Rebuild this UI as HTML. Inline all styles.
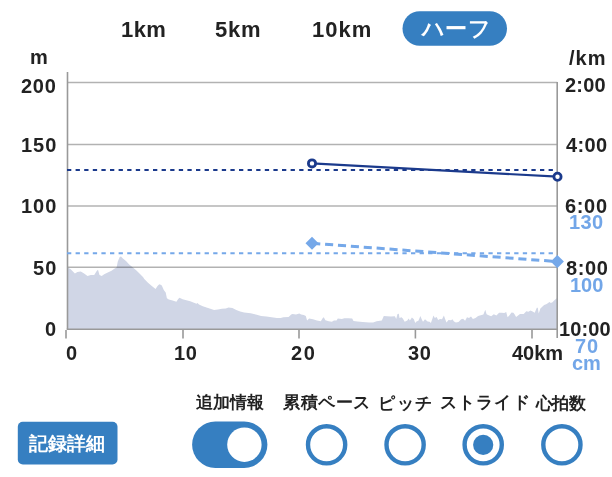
<!DOCTYPE html>
<html><head><meta charset="utf-8">
<style>
*{margin:0;padding:0;box-sizing:border-box}
html,body{width:612px;height:477px;overflow:hidden;background:#fff}
body{position:relative;font-family:"Liberation Sans",sans-serif;color:#222}
.t{position:absolute;white-space:nowrap;line-height:1;will-change:transform}
svg{position:absolute;left:0;top:0}
</style></head><body>
<svg width="612" height="477" viewBox="0 0 612 477">
<path d="M67.5 329 L67.7 267.6 L70.7 269.3 L74.9 273.5 L77.4 272 L80.8 271.5 L84.1 273.5 L87.5 276 L90.8 275 L94.2 275 L96.7 271 L98 269.8 L99.5 275 L101.7 276 L104.2 274.3 L107.8 272.4 L111.5 270.8 L114.7 268.6 L116.6 267.6 L117.8 261.4 L119.7 257 L121 256.6 L122.9 258.6 L126 261.1 L129.2 264.5 L132.9 267.6 L136.7 270.8 L140.5 274.6 L143 277 L144.3 279 L148 282.7 L151.8 285.9 L155.6 289 L157.5 285.9 L159.3 284.2 L161.2 285 L161.9 285.7 L163.8 290.1 L165.7 292.4 L166.9 298.3 L168.8 299.6 L172.6 300.6 L176.4 301.7 L178.2 298.9 L179.5 297.7 L182.6 299.2 L186.4 300.2 L190.2 301.2 L194 302.7 L196.5 303.7 L197.5 303.1 L199 304.6 L202.8 306.2 L206.5 307.5 L210.3 308.7 L214.1 310 L217.9 309.5 L221.9 308.8 L225.8 308.5 L228.5 307.5 L232.4 308.1 L236.3 310.1 L240.2 311.4 L244.1 312.4 L250.7 313.3 L255.9 314.6 L261.1 315.9 L266.4 316.6 L271.6 317.3 L276.8 317.9 L280.7 317.9 L283.4 317.3 L288.6 317 L291.2 314.6 L292.5 314 L296 314.6 L299.3 313.6 L301.2 314.6 L303.8 315 L305.8 316 L307.1 320.5 L309.1 318.6 L313 319.2 L316.9 320.5 L320.8 321.2 L322.8 317.9 L323.8 317.3 L325.4 320.3 L328.7 321.2 L331.9 321.8 L333.9 320.5 L336.5 320.5 L337.8 318.6 L341.8 319 L344.4 318.3 L348.3 318.3 L352.2 318.6 L353.5 320.9 L357.4 321.6 L362.7 322.1 L369.2 322.5 L373.1 322.5 L376.6 321.2 L381.8 320.5 L383.8 316 L387.1 316.3 L391 316.6 L394.9 316.3 L396.2 319 L397.5 314 L398.8 313.7 L399.5 317.9 L401.5 317.3 L402.8 318.6 L404.7 321.8 L407.3 320.5 L408.6 318.6 L409.9 320.5 L411.9 317.6 L413.9 319.2 L415.2 323.1 L416.5 321.6 L418.4 320.8 L420.4 316 L421.7 319.2 L423 321.8 L425 319.2 L427.6 321.6 L429.6 321.8 L430.9 323.1 L432.2 319.2 L433.5 315.6 L434.8 317.9 L436.7 316.9 L438.1 319.9 L440 319 L442 319.2 L443.9 315.6 L445.2 319.2 L446.5 322.5 L448.5 319.9 L451.1 320.3 L452.4 319.2 L454 321.6 L455.9 322.5 L458.5 322.1 L461.2 319.2 L463.1 318.7 L465.1 320.8 L467 317.3 L469 317.9 L471 316.6 L472.9 319 L475.5 317.9 L478.1 315.9 L480.8 315.3 L483.4 314.6 L485.3 309.8 L486.6 314.2 L488.6 315.3 L491.2 316.3 L493.8 314.2 L496.4 315.6 L499.1 312.7 L501.7 312.7 L504.3 312.9 L506.2 312 L507.6 317.3 L509.5 315.3 L511.5 312.4 L513.4 312.7 L514.7 314.6 L516.1 316.9 L518.7 315 L520 314 L523.7 314 L526.3 311.2 L528.4 311.7 L530.5 310.4 L532.6 311.4 L534.7 312.7 L536.8 307.8 L537.8 307.8 L538.7 313.5 L540.4 308.5 L542 307 L544.1 305 L546.2 304.3 L547.8 303.3 L549.4 302 L550.9 303.1 L552.5 302.2 L554.1 300.4 L556.2 298.7 L557.2 298 L557.2 329 Z" fill="#d0d6e6"/>
<g stroke="#000" stroke-opacity="0.3" stroke-width="1.6" fill="none">
<line x1="67.5" y1="82.5" x2="557.2" y2="82.5"/>
<line x1="67.5" y1="144.5" x2="557.2" y2="144.5"/>
<line x1="67.5" y1="206" x2="557.2" y2="206"/>
<line x1="67.5" y1="267.3" x2="557.2" y2="267.3"/>
</g>
<g stroke="#999" stroke-width="1.6" fill="none">
<line x1="67.5" y1="72" x2="67.5" y2="329.3"/>
<line x1="557.2" y1="82" x2="557.2" y2="338"/>
<line x1="66.7" y1="329.3" x2="557.2" y2="329.3"/>
<line x1="66" y1="330" x2="66" y2="338.5"/>
<line x1="183" y1="330" x2="183" y2="338.5"/>
<line x1="299" y1="330" x2="299" y2="338.5"/>
<line x1="415.4" y1="330" x2="415.4" y2="338.5"/>
<line x1="532" y1="330" x2="532" y2="338.5"/>
</g>
<line x1="67" y1="170.1" x2="554" y2="170.1" stroke="#1b3a8c" stroke-width="2" stroke-dasharray="4.3 4.3"/>
<line x1="67" y1="253.3" x2="554" y2="253.3" stroke="#75a8e9" stroke-width="2" stroke-dasharray="4.3 4.3"/>
<line x1="312" y1="163.4" x2="557.5" y2="176.7" stroke="#1b3a8c" stroke-width="2.2"/>
<circle cx="312" cy="163.4" r="3.6" fill="#fff" stroke="#1b3a8c" stroke-width="2.8"/>
<circle cx="557.5" cy="176.7" r="3.6" fill="#fff" stroke="#1b3a8c" stroke-width="2.8"/>
<line x1="312.2" y1="243.3" x2="557.3" y2="261.6" stroke="#75a8e9" stroke-width="3" stroke-dasharray="8.1 4.82"/>
<path d="M312 236.8 L318.5 243.3 L312 249.8 L305.5 243.3 Z" fill="#75a8e9"/>
<path d="M557.3 255 L563.9 261.6 L557.3 268.2 L550.7 261.6 Z" fill="#75a8e9"/>
<!-- bottom controls -->
<rect x="17.8" y="421.8" width="99.7" height="42.7" rx="5" fill="#367fc1"/>
<rect x="192.1" y="421.5" width="75.3" height="46.4" rx="23.2" fill="#367fc1"/>
<circle cx="244.4" cy="444.7" r="17.2" fill="#fff"/>
<g fill="none" stroke="#367fc1" stroke-width="4.4">
<circle cx="326.6" cy="444.8" r="18.6"/>
<circle cx="405.1" cy="444.8" r="18.6"/>
<circle cx="483.2" cy="444.8" r="18.6"/>
<circle cx="561.9" cy="444.8" r="18.6"/>
</g>
<circle cx="483.2" cy="444.8" r="10.1" fill="#367fc1"/>
<rect x="402.5" y="11.3" width="104.5" height="34.5" rx="17.25" fill="#367fc1"/>
</svg>
<div class="t" style="left:120.80px;top:18.80px;font-size:22px;font-weight:bold;letter-spacing:0.40px">1km</div>
<div class="t" style="left:215.40px;top:18.70px;font-size:22px;font-weight:bold;letter-spacing:0.80px">5km</div>
<div class="t" style="left:311.50px;top:18.70px;font-size:22px;font-weight:bold;letter-spacing:1.00px">10km</div>
<div class="t" style="left:421.90px;top:17.50px;font-size:22px;font-weight:bold;color:#fff;letter-spacing:0.30px">ハーフ</div>
<div class="t" style="left:30.30px;top:47.40px;font-size:20px;font-weight:bold">m</div>
<div class="t" style="left:568.60px;top:48.00px;font-size:20px;font-weight:bold;letter-spacing:1.00px">/km</div>
<div class="t" style="left:20.70px;top:75.70px;font-size:20px;font-weight:bold;letter-spacing:0.70px">200</div>
<div class="t" style="left:21.40px;top:135.10px;font-size:20px;font-weight:bold;letter-spacing:1.00px">150</div>
<div class="t" style="left:21.40px;top:196.30px;font-size:20px;font-weight:bold;letter-spacing:1.00px">100</div>
<div class="t" style="left:32.60px;top:257.50px;font-size:20px;font-weight:bold;letter-spacing:1.20px">50</div>
<div class="t" style="left:44.70px;top:319.10px;font-size:20px;font-weight:bold">0</div>
<div class="t" style="left:565.10px;top:75.00px;font-size:20px;font-weight:bold;letter-spacing:0.20px">2:00</div>
<div class="t" style="left:565.50px;top:135.30px;font-size:20px;font-weight:bold;letter-spacing:0.33px">4:00</div>
<div class="t" style="left:565.00px;top:195.60px;font-size:20px;font-weight:bold;letter-spacing:0.67px">6:00</div>
<div class="t" style="left:566.10px;top:257.90px;font-size:20px;font-weight:bold;letter-spacing:0.60px">8:00</div>
<div class="t" style="left:559.40px;top:318.60px;font-size:20px;font-weight:bold;letter-spacing:0.10px">10:00</div>
<div class="t" style="left:569.00px;top:212.40px;font-size:20px;font-weight:bold;color:#72a6e8;letter-spacing:0.40px">130</div>
<div class="t" style="left:570.00px;top:275.30px;font-size:20px;font-weight:bold;color:#72a6e8">100</div>
<div class="t" style="left:574.50px;top:336.20px;font-size:20px;font-weight:bold;color:#72a6e8;letter-spacing:1.00px">70</div>
<div class="t" style="left:571.60px;top:353.30px;font-size:20px;font-weight:bold;color:#72a6e8">cm</div>
<div class="t" style="left:66.20px;top:343.00px;font-size:20px;font-weight:bold">0</div>
<div class="t" style="left:174.30px;top:343.30px;font-size:20px;font-weight:bold;letter-spacing:0.60px">10</div>
<div class="t" style="left:290.80px;top:343.30px;font-size:20px;font-weight:bold;letter-spacing:1.60px">20</div>
<div class="t" style="left:407.70px;top:343.30px;font-size:20px;font-weight:bold;letter-spacing:0.60px">30</div>
<div class="t" style="left:512.20px;top:343.00px;font-size:20px;font-weight:bold">40km</div>
<div class="t" style="left:28.90px;top:434.00px;font-size:19px;font-weight:bold;color:#fff;letter-spacing:0.07px">記録詳細</div>
<div class="t" style="left:196.10px;top:394.30px;font-size:16.5px;font-weight:bold;letter-spacing:0.07px">追加情報</div>
<div class="t" style="left:283.00px;top:394.10px;font-size:16.5px;font-weight:bold;letter-spacing:0.60px">累積ペース</div>
<div class="t" style="left:378.30px;top:394.60px;font-size:16.5px;font-weight:bold;letter-spacing:1.70px">ピッチ</div>
<div class="t" style="left:439.50px;top:393.80px;font-size:16.5px;font-weight:bold;letter-spacing:1.15px">ストライド</div>
<div class="t" style="left:536.20px;top:394.60px;font-size:16.5px;font-weight:bold;letter-spacing:-0.60px">心拍数</div>
</body></html>
